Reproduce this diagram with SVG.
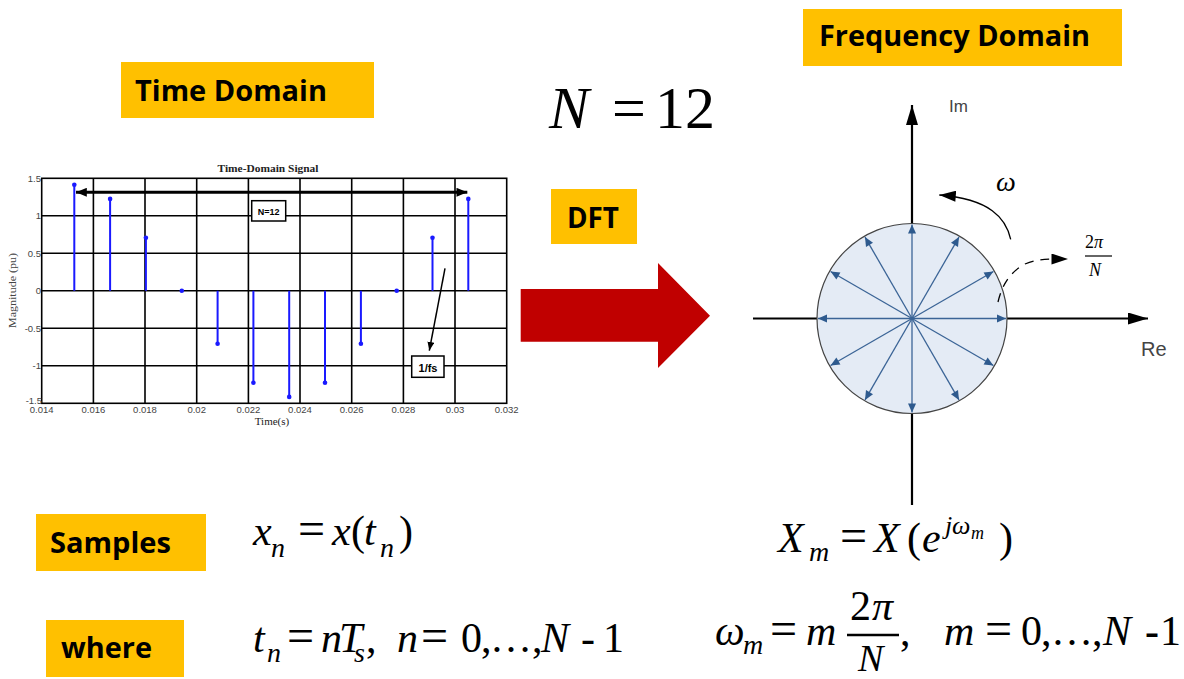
<svg xmlns="http://www.w3.org/2000/svg" width="1184" height="679" viewBox="0 0 1184 679">
<defs>
<style>
.lbl{fill:#FFC000}
.lt{font-family:"Open Sans","Liberation Sans",sans-serif;font-weight:700;font-size:29px;fill:#000}
.m{font-family:"Liberation Serif","Times New Roman",serif;font-size:42px;fill:#000}
.i{font-style:italic}
.eq{font-size:48px}
.sb{font-size:28px}
.grid{stroke:#000;stroke-width:1.6;fill:none}
.tk{font-family:"Liberation Sans",Arial,sans-serif;font-size:9.5px;fill:#444}
.stem{stroke:#1a1aff;stroke-width:2}
.dot{fill:#1a1aff}
.ax{stroke:#000;stroke-width:2.2;fill:none}
.sp{stroke:#3B6496;stroke-width:1.3}
</style>
<marker id="spk" viewBox="0 0 10 10" refX="10" refY="5" markerWidth="10" markerHeight="9" markerUnits="userSpaceOnUse" orient="auto"><path d="M0,0.5 L10,5 L0,9.5z" fill="#2E5A8E"/></marker>
<marker id="axh" viewBox="0 0 20 12" refX="20" refY="6" markerWidth="20" markerHeight="12" markerUnits="userSpaceOnUse" orient="auto"><path d="M0,0 L20,6 L0,12z" fill="#000"/></marker>
<marker id="bh" viewBox="0 0 12 10" refX="12" refY="5" markerWidth="12" markerHeight="9" markerUnits="userSpaceOnUse" orient="auto-start-reverse"><path d="M0,0 L12,5 L0,10z" fill="#000"/></marker>
<marker id="sh" viewBox="0 0 10 8" refX="10" refY="4" markerWidth="9" markerHeight="7" markerUnits="userSpaceOnUse" orient="auto"><path d="M0,0 L10,4 L0,8z" fill="#000"/></marker>
<marker id="ch" viewBox="0 0 18 12" refX="18" refY="6" markerWidth="17" markerHeight="11" markerUnits="userSpaceOnUse" orient="auto"><path d="M0,0 L18,6 L0,12z" fill="#000"/></marker>
</defs>
<rect width="1184" height="679" fill="#fff"/>

<g id="label-time-domain"><rect class="lbl" x="121" y="62" width="253" height="56"/><text class="lt" x="135" y="101" textLength="192" lengthAdjust="spacingAndGlyphs">Time Domain</text></g>
<g id="label-frequency-domain"><rect class="lbl" x="803" y="9" width="319" height="57"/><text class="lt" x="819" y="46" textLength="271" lengthAdjust="spacingAndGlyphs">Frequency Domain</text></g>
<g id="label-dft"><rect class="lbl" x="551" y="189" width="86" height="55"/><text class="lt" x="567" y="228" textLength="52" lengthAdjust="spacingAndGlyphs">DFT</text></g>
<g id="label-samples"><rect class="lbl" x="36" y="514" width="170" height="57"/><text class="lt" x="50" y="553" textLength="121" lengthAdjust="spacingAndGlyphs">Samples</text></g>
<g id="label-where"><rect class="lbl" x="46" y="620" width="138" height="57"/><text class="lt" x="61" y="658" textLength="91" lengthAdjust="spacingAndGlyphs">where</text></g>

<g id="n12"><text class="m" style="font-size:60px" y="128"><tspan x="549" class="i">N</tspan><tspan x="612">=</tspan><tspan x="655">12</tspan></text></g>

<g id="connectors">
<path id="dft-arrow" d="M520.7,289 L658,289 L658,263 L710,315.7 L658,368 L658,341.7 L520.7,341.7 Z" fill="#C00000"/>
</g>

<g id="time-plot">
<text x="268" y="172" font-family="Liberation Serif,serif" font-weight="700" font-size="11" fill="#222" text-anchor="middle" textLength="101" lengthAdjust="spacingAndGlyphs">Time-Domain Signal</text>
<g class="grid">
<rect x="41.7" y="178.3" width="465" height="225"/>
<path d="M93.4,178.3V403.3M145,178.3V403.3M196.7,178.3V403.3M248.4,178.3V403.3M300,178.3V403.3M351.7,178.3V403.3M403.4,178.3V403.3M455,178.3V403.3"/>
<path d="M41.7,215.8H506.7M41.7,253.3H506.7M41.7,290.8H506.7M41.7,328.3H506.7M41.7,365.8H506.7"/>
</g>
<g class="tk" text-anchor="end">
<text x="41" y="182">1.5</text><text x="41" y="219">1</text><text x="41" y="257">0.5</text><text x="41" y="294">0</text><text x="41" y="332">-0.5</text><text x="41" y="369">-1</text><text x="42" y="404">-1.5</text>
</g>
<g class="tk" text-anchor="middle">
<text x="41.7" y="413">0.014</text><text x="93.4" y="413">0.016</text><text x="145" y="413">0.018</text><text x="196.7" y="413">0.02</text><text x="248.4" y="413">0.022</text><text x="300" y="413">0.024</text><text x="351.7" y="413">0.026</text><text x="403.4" y="413">0.028</text><text x="455" y="413">0.03</text><text x="506.7" y="413">0.032</text>
</g>
<text x="272" y="425" font-family="Liberation Serif,serif" font-size="11" fill="#222" text-anchor="middle">Time(s)</text>
<text transform="translate(16,290.5) rotate(-90)" font-family="Liberation Serif,serif" font-size="10" fill="#444" text-anchor="middle" textLength="75" lengthAdjust="spacingAndGlyphs">Magnitude (pu)</text>
<g class="stem">
<path d="M74.3,290.8V184.7M110.1,290.8V198.9M145.9,290.8V237.8M181.8,290.8V290.8M217.6,290.8V343.8M253.4,290.8V382.7M289.2,290.8V396.9M325,290.8V382.7M360.9,290.8V343.8M396.7,290.8V290.8M432.5,290.8V237.8M468.3,290.8V198.9"/>
</g>
<g class="dot">
<circle cx="74.3" cy="184.7" r="2.3"/><circle cx="110.1" cy="198.9" r="2.3"/><circle cx="145.9" cy="237.8" r="2.3"/><circle cx="181.8" cy="290.8" r="2.3"/><circle cx="217.6" cy="343.8" r="2.3"/><circle cx="253.4" cy="382.7" r="2.3"/><circle cx="289.2" cy="396.9" r="2.3"/><circle cx="325" cy="382.7" r="2.3"/><circle cx="360.9" cy="343.8" r="2.3"/><circle cx="396.7" cy="290.8" r="2.3"/><circle cx="432.5" cy="237.8" r="2.3"/><circle cx="468.3" cy="198.9" r="2.3"/>
</g>
<line x1="76" y1="192.3" x2="467.3" y2="192.3" stroke="#000" stroke-width="3" marker-start="url(#bh)" marker-end="url(#bh)"/>
<g id="n12-box"><rect x="251.7" y="200.7" width="34" height="20.3" fill="#fff" stroke="#000" stroke-width="1.5"/><text x="268.7" y="214.5" font-family="Liberation Sans,Arial,sans-serif" font-weight="700" font-size="9" text-anchor="middle">N=12</text></g>
<path d="M445,268.3 L429.3,350.7" stroke="#000" stroke-width="1.5" marker-end="url(#sh)"/>
<g id="fs-box"><rect x="411.7" y="356" width="32.3" height="21.3" fill="#fff" stroke="#000" stroke-width="1.5"/><text x="428" y="371.5" font-family="Liberation Sans,Arial,sans-serif" font-weight="700" font-size="11" text-anchor="middle">1/fs</text></g>
</g>

<g id="unit-circle">
<path class="ax" d="M753,318.5H1148" marker-end="url(#axh)"/>
<path class="ax" d="M912,505V105" marker-end="url(#axh)"/>
<circle cx="912" cy="318.5" r="95" fill="#E4EBF5" stroke="#444" stroke-width="1.2"/>
<g class="sp" marker-end="url(#spk)">
<line x1="912" y1="318.5" x2="1006" y2="318.5"/>
<line x1="912" y1="318.5" x2="993.4" y2="271.5"/>
<line x1="912" y1="318.5" x2="959" y2="237.1"/>
<line x1="912" y1="318.5" x2="912" y2="224.5"/>
<line x1="912" y1="318.5" x2="865" y2="237.1"/>
<line x1="912" y1="318.5" x2="830.6" y2="271.5"/>
<line x1="912" y1="318.5" x2="818" y2="318.5"/>
<line x1="912" y1="318.5" x2="830.6" y2="365.5"/>
<line x1="912" y1="318.5" x2="865" y2="399.9"/>
<line x1="912" y1="318.5" x2="912" y2="412.5"/>
<line x1="912" y1="318.5" x2="959" y2="399.9"/>
<line x1="912" y1="318.5" x2="993.4" y2="365.5"/>
</g>
<text x="949" y="112" font-family="Liberation Sans,Arial,sans-serif" font-size="17" fill="#444">Im</text>
<text x="1141" y="356" font-family="Liberation Sans,Arial,sans-serif" font-size="20" fill="#444">Re</text>
<path d="M1010.7,239.3 C1006,218 990,199 939.3,195" stroke="#000" stroke-width="1.3" fill="none" marker-end="url(#ch)"/>
<text class="m i" x="996" y="191" style="font-size:28px">ω</text>
<path d="M998,302 C1002,285 1010,272 1025,264 C1040,258 1050,259 1068,259" stroke="#000" stroke-width="1.3" fill="none" stroke-dasharray="9,7" marker-end="url(#ch)"/>
<g id="frac-small" class="m" style="font-size:18px">
<text x="1085" y="248">2<tspan class="i">π</tspan></text>
<path d="M1085,256H1112" stroke="#000" stroke-width="1.2"/>
<text class="i" x="1089" y="276">N</text>
</g>
</g>

<g id="eq-samples">
<text class="m" y="545"><tspan x="253" class="i">x</tspan><tspan x="271" y="557" class="i sb">n</tspan><tspan x="298" y="545" class="eq">=</tspan><tspan x="332" class="i">x</tspan><tspan x="351">(</tspan><tspan x="364" class="i">t</tspan><tspan x="380" y="557" class="i sb">n</tspan><tspan x="399" y="545">)</tspan></text>
</g>
<g id="eq-where">
<text class="m" y="652"><tspan x="253" class="i">t</tspan><tspan x="267" y="662" class="i sb">n</tspan><tspan x="287" y="652" class="eq">=</tspan><tspan x="321" class="i">n</tspan><tspan x="339" class="i">T</tspan><tspan x="354" y="662" class="i sb">s</tspan><tspan x="366" y="652">,</tspan><tspan x="397" class="i">n</tspan><tspan x="421" class="eq">=</tspan><tspan x="461">0</tspan><tspan x="481">,</tspan><tspan x="490">…</tspan><tspan x="532">,</tspan><tspan x="541" class="i">N</tspan><tspan x="581">-</tspan><tspan x="603">1</tspan></text>
</g>
<g id="eq-freq">
<text class="m" y="552"><tspan x="778" class="i">X</tspan><tspan x="809" y="561" class="i sb">m</tspan><tspan x="840" y="552" class="eq">=</tspan><tspan x="874" class="i">X</tspan><tspan x="907">(</tspan><tspan x="922" class="i">e</tspan><tspan x="945" y="534" class="i" style="font-size:26px">j</tspan><tspan x="952" y="534" class="i" style="font-size:26px">ω</tspan><tspan x="971" y="539" class="i" style="font-size:18px">m</tspan><tspan x="999" y="552">)</tspan></text>
</g>
<g id="eq-omega">
<text class="m" y="645"><tspan x="715" class="i">ω</tspan><tspan x="743" y="654" class="i sb">m</tspan><tspan x="770" y="645" class="eq">=</tspan><tspan x="806" class="i">m</tspan><tspan x="850" y="620">2</tspan><tspan x="872" y="620" class="i">π</tspan><tspan x="900" y="645">,</tspan><tspan x="944" class="i">m</tspan><tspan x="985" class="eq">=</tspan><tspan x="1021">0</tspan><tspan x="1041">,</tspan><tspan x="1051">…</tspan><tspan x="1092">,</tspan><tspan x="1103" class="i">N</tspan><tspan x="1145" font-weight="700">-</tspan><tspan x="1160">1</tspan></text>
<text class="m i" x="858" y="671" style="font-size:38px">N</text>
<path d="M847,635H899" stroke="#000" stroke-width="2.6"/>
</g>
</svg>
